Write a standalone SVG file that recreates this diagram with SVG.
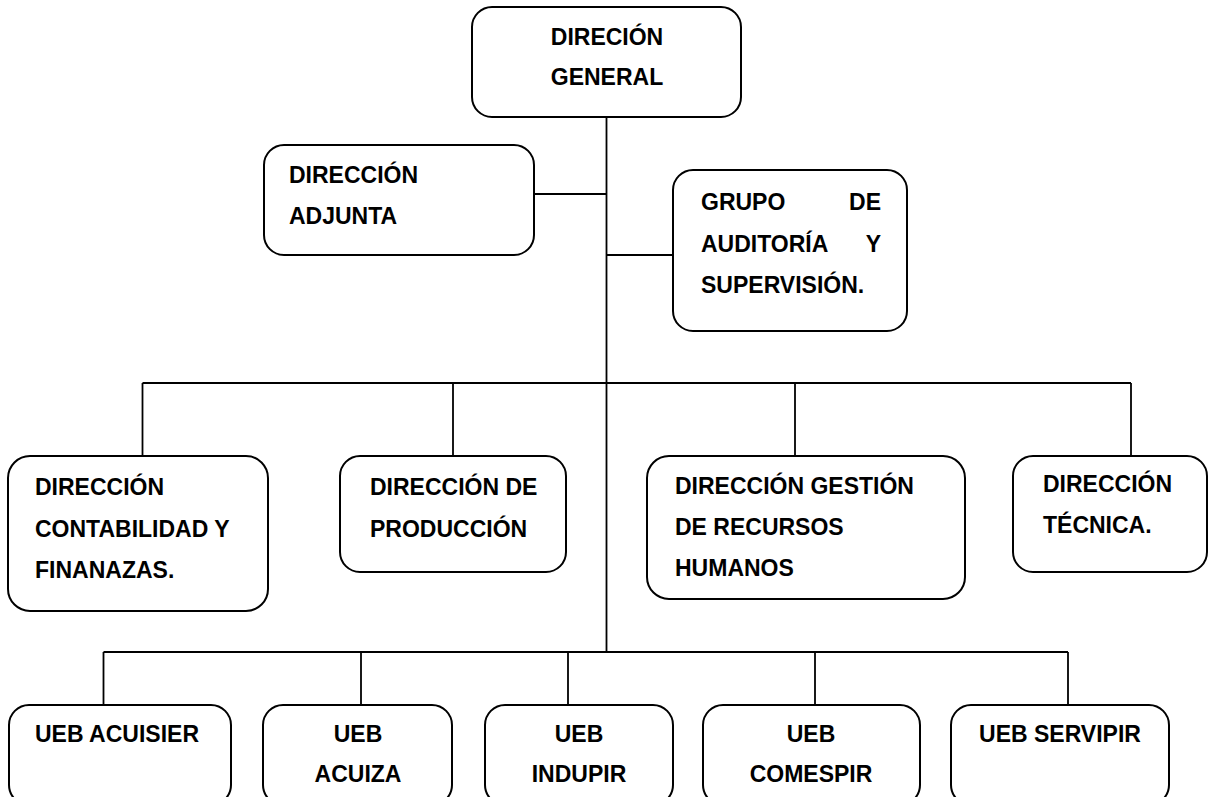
<svg xmlns="http://www.w3.org/2000/svg" width="1209" height="797" viewBox="0 0 1209 797">
  <style>
    .box { fill: #ffffff; stroke: #000000; stroke-width: 2; }
    .link { fill: none; stroke: #000000; stroke-width: 1.8; }
    text { font-family: "Liberation Sans", Arial, sans-serif; font-weight: bold; font-size: 23px; fill: #000000; }
    .mid { text-anchor: middle; }
    .end { text-anchor: end; }
  </style>
  <rect width="1209" height="797" fill="#ffffff"/>

  <!-- connectors -->
  <g id="connectors">
    <line class="link" x1="606.5" y1="117" x2="606.5" y2="652"/>
    <line class="link" x1="534" y1="194" x2="606.5" y2="194"/>
    <line class="link" x1="606.5" y1="255" x2="673" y2="255"/>
    <!-- second level bus -->
    <line class="link" x1="142.5" y1="383" x2="1131" y2="383"/>
    <line class="link" x1="142.5" y1="383" x2="142.5" y2="456"/>
    <line class="link" x1="453" y1="383" x2="453" y2="456"/>
    <line class="link" x1="795" y1="383" x2="795" y2="456"/>
    <line class="link" x1="1131" y1="383" x2="1131" y2="456"/>
    <!-- third level bus -->
    <line class="link" x1="103.5" y1="652" x2="1068" y2="652"/>
    <line class="link" x1="103.5" y1="652" x2="103.5" y2="705"/>
    <line class="link" x1="361" y1="652" x2="361" y2="705"/>
    <line class="link" x1="568" y1="652" x2="568" y2="705"/>
    <line class="link" x1="815" y1="652" x2="815" y2="705"/>
    <line class="link" x1="1068" y1="652" x2="1068" y2="705"/>
  </g>

  <g id="direccion-general">
    <rect class="box" x="472" y="7" width="269" height="110" rx="20"/>
    <text class="mid" x="607" y="45">DIRECIÓN</text>
    <text class="mid" x="607" y="85">GENERAL</text>
  </g>

  <g id="direccion-adjunta">
    <rect class="box" x="264" y="145" width="270" height="110" rx="20"/>
    <text x="289" y="183">DIRECCIÓN</text>
    <text x="289" y="224">ADJUNTA</text>
  </g>

  <g id="grupo-auditoria">
    <rect class="box" x="673" y="170" width="234" height="161" rx="20"/>
    <text x="701" y="210">GRUPO</text>
    <text class="end" x="881" y="210">DE</text>
    <text x="701" y="252">AUDITORÍA</text>
    <text class="end" x="881" y="252">Y</text>
    <text x="701" y="293">SUPERVISIÓN.</text>
  </g>

  <g id="direccion-contabilidad">
    <rect class="box" x="8" y="456" width="260" height="155" rx="22"/>
    <text x="35" y="495">DIRECCIÓN</text>
    <text x="35" y="537">CONTABILIDAD Y</text>
    <text x="35" y="578">FINANAZAS.</text>
  </g>

  <g id="direccion-produccion">
    <rect class="box" x="340" y="456" width="226" height="116" rx="20"/>
    <text x="370" y="495">DIRECCIÓN DE</text>
    <text x="370" y="537">PRODUCCIÓN</text>
  </g>

  <g id="direccion-rrhh">
    <rect class="box" x="647" y="456" width="318" height="143" rx="22"/>
    <text x="675" y="494">DIRECCIÓN GESTIÓN</text>
    <text x="675" y="535">DE RECURSOS</text>
    <text x="675" y="576">HUMANOS</text>
  </g>

  <g id="direccion-tecnica">
    <rect class="box" x="1013" y="456" width="194" height="116" rx="20"/>
    <text x="1043" y="492">DIRECCIÓN</text>
    <text x="1043" y="533">TÉCNICA.</text>
  </g>

  <g id="ueb-acuisier">
    <rect class="box" x="9" y="705" width="222" height="100" rx="20"/>
    <text x="35" y="742">UEB ACUISIER</text>
  </g>

  <g id="ueb-acuiza">
    <rect class="box" x="263" y="705" width="189" height="100" rx="20"/>
    <text class="mid" x="358" y="742">UEB</text>
    <text class="mid" x="358" y="782">ACUIZA</text>
  </g>

  <g id="ueb-indupir">
    <rect class="box" x="485" y="705" width="188" height="100" rx="20"/>
    <text class="mid" x="579" y="742">UEB</text>
    <text class="mid" x="579" y="782">INDUPIR</text>
  </g>

  <g id="ueb-comespir">
    <rect class="box" x="703" y="705" width="217" height="100" rx="20"/>
    <text class="mid" x="811" y="742">UEB</text>
    <text class="mid" x="811" y="782">COMESPIR</text>
  </g>

  <g id="ueb-servipir">
    <rect class="box" x="951" y="705" width="218" height="100" rx="20"/>
    <text class="mid" x="1060" y="742">UEB SERVIPIR</text>
  </g>
</svg>
